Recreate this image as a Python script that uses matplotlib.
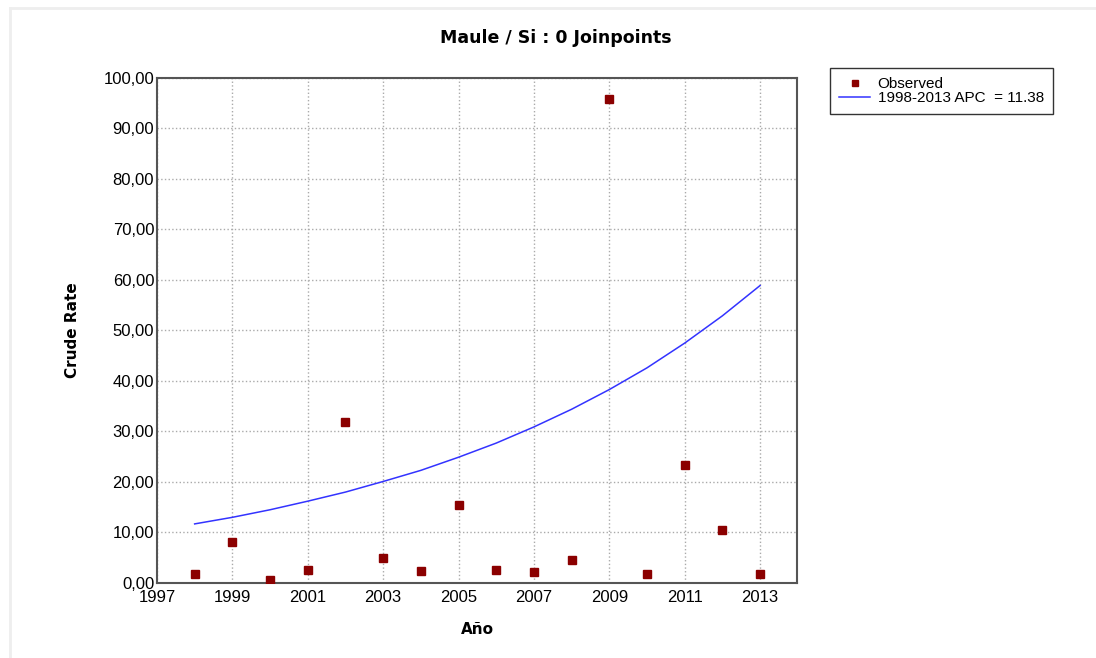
import numpy as np
import matplotlib
matplotlib.use("Agg")
import matplotlib.pyplot as plt
from matplotlib.ticker import FuncFormatter

years = [1998, 1999, 2000, 2001, 2002, 2003, 2004, 2005,
         2006, 2007, 2008, 2009, 2010, 2011, 2012, 2013]
observed = [1.8, 8.1, 0.6, 2.6, 31.9, 5.0, 2.4, 15.4,
            2.6, 2.2, 4.6, 95.8, 1.8, 23.4, 10.5, 1.8]
fitted = [11.7, 13.0, 14.5, 16.2, 18.0, 20.1, 22.3, 24.9,
          27.7, 30.9, 34.4, 38.3, 42.6, 47.5, 52.9, 58.9]

plt.rcParams['font.family'] = ['Liberation Sans', 'DejaVu Sans']

fig = plt.figure(figsize=(10.96, 6.58), dpi=100)
ax = fig.add_axes([0.1432, 0.114, 0.584, 0.7675])

# faint outer frame like the source screenshot
fig.add_artist(plt.Line2D([10/1096, 10/1096], [0, 1 - 8/658], transform=fig.transFigure,
                          color='#eeeeee', lw=2))
fig.add_artist(plt.Line2D([10/1096, 1], [1 - 8/658, 1 - 8/658], transform=fig.transFigure,
                          color='#eeeeee', lw=2))

ax.plot(years, observed, 's', color='#8b0000', markersize=6, label='Observed', zorder=3)
ax.plot(years, fitted, '-', color='#3333ff', lw=1.1, label='1998-2013 APC  = 11.38', zorder=2)

ax.set_xlim(1997, 2013.98)
ax.set_ylim(0, 100)
ax.set_xticks(np.arange(1997, 2014, 2))
ax.set_yticks(np.arange(0, 101, 10))
ax.yaxis.set_major_formatter(FuncFormatter(lambda v, p: f'{v:.2f}'.replace('.', ',')))
ax.tick_params(labelsize=12, length=0)
ax.tick_params(axis='y', pad=2)
ax.tick_params(axis='x', pad=5)
ax.grid(True, color='#aaaaaa', linestyle=':', linewidth=1)
for s in ax.spines.values():
    s.set_color('#555555')
    s.set_linewidth(1.5)

ax.set_xlabel('Año', fontsize=11, fontweight='bold', family='DejaVu Sans', labelpad=12)
ax.set_ylabel('Crude Rate', fontsize=11, fontweight='bold', family='DejaVu Sans', labelpad=17)
fig.suptitle('Maule / Si : 0 Joinpoints', x=0.507, y=1 - 38/658, va='center', fontsize=12.5,
             fontweight='bold', family='DejaVu Sans')

leg = ax.legend(loc='upper left', bbox_to_anchor=(1.052, 1.02), fontsize=11,
                frameon=True, fancybox=False, edgecolor='black', borderpad=0.6,
                handlelength=2.0, handletextpad=0.5, labelspacing=0.0, borderaxespad=0,
                markerscale=0.65)
leg.get_frame().set_linewidth(1.0)

fig.savefig('out.png', dpi=100)
